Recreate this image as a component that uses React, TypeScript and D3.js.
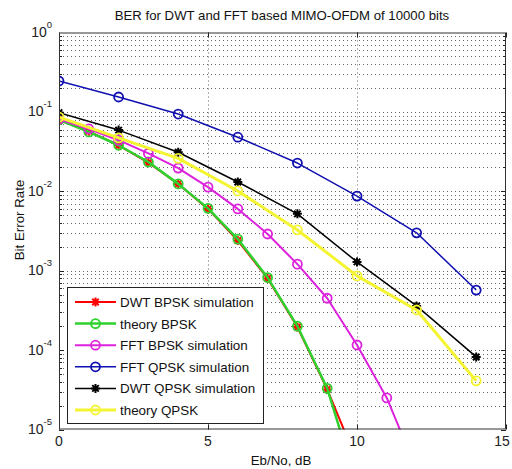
import React, { useEffect, useRef } from "react";
import * as d3 from "d3";

// Eb/No axis values (dB)
const bpskEbNo = [0, 1, 2, 3, 4, 5, 6, 7, 8, 9, 10];
const fftBpskEbNo = [0, 1, 2, 3, 4, 5, 6, 7, 8, 9, 10, 11, 12];
const qpskEbNo = [0, 2, 4, 6, 8, 10, 12, 14];

// BER values
const dwtBpskSim = [0.079, 0.057, 0.038, 0.023, 0.0124, 0.006, 0.0024, 0.0008, 0.000195, 0.000032, 0.000004];
const theoryBpsk = [0.079, 0.056, 0.038, 0.0234, 0.0124, 0.0061, 0.0025, 0.00082, 0.0002, 0.000033, 0.000002];
const fftBpskSim = [0.081, 0.061, 0.044, 0.03, 0.0196, 0.0113, 0.006, 0.0029, 0.00121, 0.00045, 0.000116, 0.000025, 0.0000031];
const fftQpskSim = [0.245, 0.154, 0.094, 0.048, 0.0227, 0.0087, 0.003, 0.00057];
const dwtQpskSim = [0.098, 0.059, 0.031, 0.0131, 0.0052, 0.00129, 0.00036, 0.000082];
const theoryQpsk = [0.086, 0.047, 0.026, 0.0101, 0.00326, 0.00086, 0.00032, 0.000041];

const xTicks = [0, 5, 10, 15];
const yExponents = [0, -1, -2, -3, -4, -5];

const series = [
  { name: "DWT BPSK simulation", x: bpskEbNo, y: dwtBpskSim, color: "#ff0000", width: 2, marker: "star" },
  { name: "theory BPSK", x: bpskEbNo, y: theoryBpsk, color: "#2ed12e", width: 2.5, marker: "circle" },
  { name: "FFT BPSK simulation", x: fftBpskEbNo, y: fftBpskSim, color: "#dd22dd", width: 2, marker: "circle" },
  { name: "FFT QPSK simulation", x: qpskEbNo, y: fftQpskSim, color: "#1010b0", width: 1.5, marker: "circle" },
  { name: "DWT QPSK simulation", x: qpskEbNo, y: dwtQpskSim, color: "#000000", width: 1.5, marker: "star" },
  { name: "theory QPSK", x: qpskEbNo, y: theoryQpsk, color: "#f4f430", width: 3, marker: "circle" },
];

const W = 512;
const H = 469;
const L = 59, R = 506, T = 32.5, B = 429.5;

function starPath(s: number) {
  const d = s * 0.72;
  return `M${-s},0L${s},0M0,${-s}L0,${s}M${-d},${-d}L${d},${d}M${-d},${d}L${d},${-d}`;
}

export default function App() {
  const svgRef = useRef<SVGSVGElement>(null);

  useEffect(() => {
    const svg = d3.select(svgRef.current);
    svg.selectAll("*").remove();
    const font = "Liberation Sans, Arial, sans-serif";

    const x = d3.scaleLinear().domain([0, 15]).range([L, R]);
    const y = d3.scaleLog().domain([1e-5, 1]).range([B, T]);

    svg.append("rect").attr("width", W).attr("height", H).attr("fill", "#fff");

    svg.append("defs").append("clipPath").attr("id", "plotclip")
      .append("rect").attr("x", L).attr("y", T).attr("width", R - L).attr("height", B - T);

    // grid
    const grid = svg.append("g").attr("stroke", "#333").attr("stroke-width", 1)
      .attr("stroke-dasharray", "1,3").attr("opacity", 0.75);
    const gridVals: number[] = [];
    for (let k = -5; k < 0; k++) for (let m = 1; m <= 9; m++) gridVals.push(m * Math.pow(10, k));
    grid.selectAll("line.h").data(gridVals.filter((v) => v > 1e-5)).enter().append("line")
      .attr("x1", L).attr("x2", R)
      .attr("y1", (d) => Math.round(y(d)) + 0.5).attr("y2", (d) => Math.round(y(d)) + 0.5);
    grid.selectAll("line.v").data([5, 10]).enter().append("line")
      .attr("y1", T).attr("y2", B)
      .attr("x1", (d) => Math.round(x(d)) + 0.5).attr("x2", (d) => Math.round(x(d)) + 0.5);

    // ticks
    const ticks = svg.append("g").attr("stroke", "#222").attr("stroke-width", 1);
    gridVals.forEach((v) => {
      const yy = Math.round(y(v)) + 0.5;
      const len = Number.isInteger(Math.log10(v)) ? 5 : 3;
      ticks.append("line").attr("x1", L).attr("x2", L + len).attr("y1", yy).attr("y2", yy);
      ticks.append("line").attr("x1", R - len).attr("x2", R).attr("y1", yy).attr("y2", yy);
    });
    xTicks.forEach((v) => {
      const xx = Math.round(x(v)) + 0.5;
      ticks.append("line").attr("x1", xx).attr("x2", xx).attr("y1", B).attr("y2", B - 5);
      ticks.append("line").attr("x1", xx).attr("x2", xx).attr("y1", T).attr("y2", T + 5);
    });

    // series
    const plot = svg.append("g").attr("clip-path", "url(#plotclip)");
    series.forEach((s) => {
      const pts = s.x.map((xv, i) => [x(xv), y(s.y[i])] as [number, number]);
      plot.append("path").attr("d", d3.line()(pts)).attr("fill", "none")
        .attr("stroke", s.color).attr("stroke-width", s.width).attr("stroke-linejoin", "round");
      pts.forEach(([px, py]) => {
        if (s.marker === "circle") {
          plot.append("circle").attr("cx", px).attr("cy", py).attr("r", 4.5)
            .attr("fill", "none").attr("stroke", s.color).attr("stroke-width", 1.8);
        } else {
          plot.append("path").attr("d", starPath(4.5)).attr("transform", `translate(${px},${py})`)
            .attr("stroke", s.color).attr("stroke-width", 2).attr("fill", "none");
        }
      });
    });

    // frame
    svg.append("rect").attr("x", L + 0.5).attr("y", T + 0.5).attr("width", R - L - 1).attr("height", B - T - 1)
      .attr("fill", "none").attr("stroke", "#333").attr("stroke-width", 1);

    // tick labels
    yExponents.forEach((e) => {
      const t = svg.append("text").attr("x", 52).attr("y", y(Math.pow(10, e)) + 4.5)
        .attr("text-anchor", "end").attr("font-family", font).attr("font-size", 14).attr("fill", "#222");
      t.append("tspan").text("10");
      t.append("tspan").attr("dy", -9).attr("font-size", 9.5).text(String(e));
    });
    xTicks.forEach((v) => {
      svg.append("text").attr("x", Math.min(x(v), 502)).attr("y", 446).attr("text-anchor", "middle")
        .attr("font-family", font).attr("font-size", 14).attr("fill", "#222").text(String(v));
    });

    // labels
    svg.append("text").attr("x", 282).attr("y", 19.5).attr("text-anchor", "middle")
      .attr("font-family", font).attr("font-size", 13.2).attr("fill", "#111")
      .text("BER for DWT and FFT based MIMO-OFDM of 10000 bits");
    svg.append("text").attr("x", 281).attr("y", 465).attr("text-anchor", "middle")
      .attr("font-family", font).attr("font-size", 13.3).attr("fill", "#111").text("Eb/No, dB");
    svg.append("text").attr("transform", "translate(24,220) rotate(-90)").attr("text-anchor", "middle")
      .attr("font-family", font).attr("font-size", 13.3).attr("fill", "#111").text("Bit Error Rate");

    // legend
    const lg = svg.append("g");
    lg.append("rect").attr("x", 67.5).attr("y", 287.5).attr("width", 196).attr("height", 136)
      .attr("fill", "#fff").attr("stroke", "#222").attr("stroke-width", 1);
    series.forEach((s, i) => {
      const yy = 302 + i * 21.6;
      lg.append("line").attr("x1", 75).attr("x2", 116).attr("y1", yy).attr("y2", yy)
        .attr("stroke", s.color).attr("stroke-width", s.width);
      if (s.marker === "circle") {
        lg.append("circle").attr("cx", 95.5).attr("cy", yy).attr("r", 4.5)
          .attr("fill", "none").attr("stroke", s.color).attr("stroke-width", 1.8);
      } else {
        lg.append("path").attr("d", starPath(4.5)).attr("transform", `translate(95.5,${yy})`)
          .attr("stroke", s.color).attr("stroke-width", 2);
      }
      lg.append("text").attr("x", 120).attr("y", yy + 5).attr("font-family", font)
        .attr("font-size", 13.4).attr("fill", "#111").text(s.name);
    });
  }, []);

  return (
    <React.Fragment>
      <svg ref={svgRef} width={W} height={H}
        style={{ position: "absolute", left: 0, top: 0, display: "block" }} />
    </React.Fragment>
  );
}
